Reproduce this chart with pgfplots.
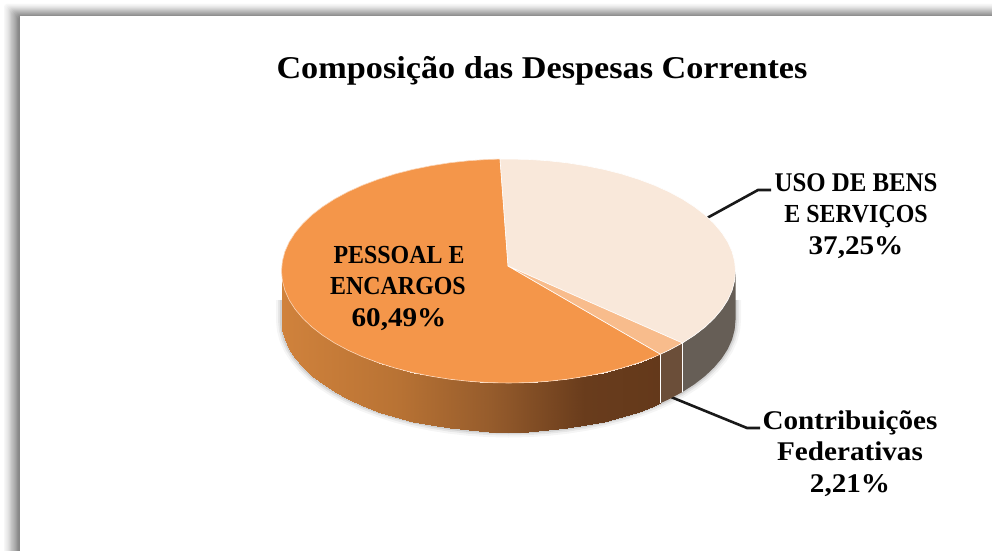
\documentclass[border=0pt]{standalone}
\usepackage{pgfplots}
\usepackage{pgfplotstable}
\usepackage{fontspec}
\setmainfont{Liberation Serif}
\newfontfamily\wide[FakeStretch=1.08]{Liberation Serif}
\newfontfamily\narrow[FakeStretch=0.92]{Liberation Serif}
\pgfplotsset{compat=1.18}
\definecolor{pessoal}{RGB}{244,150,74}
\definecolor{uso}{RGB}{249,232,218}
\definecolor{contrib}{RGB}{248,188,140}
\definecolor{usoside}{RGB}{102,94,86}
\definecolor{contribside}{RGB}{107,78,57}
\pgfplotstableread{
x y
735.5 300
735.5 320
734.6 329.8
732.1 339.4
727.8 349
721.8 358.3
714.2 367.3
705.1 376
694.5 384.2
682.4 392
669 399.2
654.4 405.8
638.7 411.7
622 417
604.4 421.5
586.1 425.2
567.2 428.2
547.9 430.3
528.3 431.6
508.5 432
488.7 431.6
469.1 430.3
449.8 428.2
430.9 425.2
412.6 421.5
395 417
378.3 411.7
362.6 405.8
348 399.2
334.6 392
322.5 384.2
311.9 376
302.8 367.3
295.2 358.3
289.2 349
284.9 339.4
282.4 329.8
281.5 320
281.5 300
}\outline
\pgfplotstableread{
x y
281.5 271
282.4 280.8
284.9 290.4
289.2 300
295.2 309.3
302.8 318.3
311.9 327
322.5 335.2
334.6 343
348 350.2
362.6 356.8
378.3 362.7
395 368
412.6 372.5
430.9 376.2
449.8 379.2
469.1 381.3
488.7 382.6
508.5 383
528.3 382.6
547.9 381.3
567.2 379.2
586.1 376.2
604.4 372.5
622 368
638.7 362.7
654.4 356.8
660.4 354.2
281.5 320
282.4 329.8
284.9 339.4
289.2 349
295.2 358.3
302.8 367.3
311.9 376
322.5 384.2
334.6 392
348 399.2
362.6 405.8
378.3 411.7
395 417
412.6 421.5
430.9 425.2
449.8 428.2
469.1 430.3
488.7 431.6
508.5 432
528.3 431.6
547.9 430.3
567.2 428.2
586.1 425.2
604.4 421.5
622 417
638.7 411.7
654.4 405.8
660.4 403.2
}\orangeside
\pgfplotstableread{
x y
508 266
660.4 354.2
654.4 356.8
638.7 362.7
622 368
604.4 372.5
586.1 376.2
567.2 379.2
547.9 381.3
528.3 382.6
508.5 383
488.7 382.6
469.1 381.3
449.8 379.2
430.9 376.2
412.6 372.5
395 368
378.3 362.7
362.6 356.8
348 350.2
334.6 343
322.5 335.2
311.9 327
302.8 318.3
295.2 309.3
289.2 300
284.9 290.4
282.4 280.8
281.5 271
282.4 261.2
284.9 251.6
289.2 242
295.2 232.7
302.8 223.7
311.9 215
322.5 206.8
334.6 199
348 191.8
362.6 185.2
378.3 179.3
395 174
412.6 169.5
430.9 165.8
449.8 162.8
469.1 160.7
488.7 159.4
500 159.1
508 266
}\pessoaltop
\pgfplotstableread{
x y
508 266
500 159.1
508.5 159
528.3 159.4
547.9 160.7
567.2 162.8
586.1 165.8
604.4 169.5
622 174
638.7 179.3
654.4 185.2
669 191.8
682.4 199
694.5 206.8
705.1 215
714.2 223.7
721.8 232.7
727.8 242
732.1 251.6
734.6 261.2
735.5 271
734.6 280.8
732.1 290.4
727.8 300
721.8 309.3
714.2 318.3
705.1 327
694.5 335.2
682.4 343
508 266
}\usotop
\begin{document}
\begin{tikzpicture}[x=1pt,y=1pt]
\clip (0,0) rectangle (992,550);
% page frame with its soft shadow
\fill[white] (0,0) rectangle (992,550);
\foreach \i/\g in {0/97,1/95,2/92,3/89,4/85,5/81,6/77,7/73,8/69,9/65,10/61,11/57,12/53}{
  \pgfmathsetmacro{\xa}{4+1.2*\i}
  \pgfmathsetmacro{\ya}{550-4-\i}
  \fill[black!\the\numexpr100-\g\relax,rounded corners=3pt] (\xa,-9) -- (\xa,\ya) -- (999,\ya) -- (999,-9) -- cycle;
}
\fill[white] (20,-9) rectangle (999,534);
\begin{axis}[
  at={(0,0)},anchor=south west,
  scale only axis,width=992pt,height=550pt,
  xmin=0,xmax=992,ymin=0,ymax=550,y dir=reverse,
  axis lines=none,clip=true,
  colormap={sidec}{rgb255(0pt)=(208,130,60); rgb255(30pt)=(185,115,52); rgb255(55pt)=(150,92,44); rgb255(80pt)=(105,60,28); rgb255(100pt)=(100,57,27)},
  point meta min=281.5,point meta max=660.4,
]
% soft shadow
\addplot[draw=black,opacity=0.04,line width=11pt,line join=round] table[x=x,y=y] {\outline};
\addplot[draw=black,opacity=0.06,line width=7pt,line join=round] table[x=x,y=y] {\outline};
\addplot[draw=black,opacity=0.09,line width=3.5pt,line join=round] table[x=x,y=y] {\outline};
% leaders
\addplot[draw=black!90,line width=2.6pt] coordinates {(707,218) (758,190) (771,190)};
\addplot[draw=black!90,line width=2.6pt] coordinates {(671,397) (747,428) (760,428)};
% side walls
\addplot[surf,shader=interp,mesh/rows=2,point meta=x] table[x=x,y=y] {\orangeside};
\addplot[fill=usoside,draw=none] coordinates {(735.5,271) (734.6,280.8) (732.1,290.4) (727.8,300) (721.8,309.3) (714.2,318.3) (705.1,327) (694.5,335.2) (682.4,343) (682.4,392) (694.5,384.2) (705.1,376) (714.2,367.3) (721.8,358.3) (727.8,349) (732.1,339.4) (734.6,329.8) (735.5,320)};
\addplot[fill=contribside,draw=none] coordinates {(682.4,343) (669,350.2) (660.4,354.2) (660.4,403.2) (669,399.2) (682.4,392)};
\addplot[draw=white,line width=0.9pt] coordinates {(660.4,354.2) (660.4,403.2)};
\addplot[draw=white,line width=0.9pt] coordinates {(682.4,343) (682.4,392)};
% top faces
\addplot[fill=pessoal,draw=white!60!pessoal,line width=0.6pt] table[x=x,y=y] {\pessoaltop};
\addplot[fill=uso,draw=white,line width=0.6pt] table[x=x,y=y] {\usotop};
\addplot[fill=contrib,draw=white,line width=0.6pt] coordinates {(508,266) (682.4,343) (669,350.2) (660.4,354.2) (508,266)};
% labels
\node[anchor=base,font=\fontsize{31.7}{36}\wide\bfseries] at (axis cs:542,78) {Composição das Despesas Correntes};
\node[anchor=base,font=\fontsize{26}{28}\narrow\bfseries] at (axis cs:399,263) {PESSOAL E};
\node[anchor=base,font=\fontsize{26}{28}\narrow\bfseries] at (axis cs:398,294) {ENCARGOS};
\node[anchor=base,font=\fontsize{27}{30}\wide\bfseries] at (axis cs:399,326) {60,49\%};
\node[anchor=base,font=\fontsize{27}{28}\narrow\bfseries] at (axis cs:856,191) {USO DE BENS};
\node[anchor=base,font=\fontsize{26}{28}\narrow\bfseries] at (axis cs:856,222) {E SERVIÇOS};
\node[anchor=base,font=\fontsize{27}{30}\wide\bfseries] at (axis cs:856,254) {37,25\%};
\node[anchor=base,font=\fontsize{27}{30}\wide\bfseries] at (axis cs:850,429) {Contribuições};
\node[anchor=base,font=\fontsize{27}{30}\wide\bfseries] at (axis cs:850,460) {Federativas};
\node[anchor=base,font=\fontsize{27}{30}\wide\bfseries] at (axis cs:850,492) {2,21\%};
\end{axis}
\end{tikzpicture}
\end{document}
